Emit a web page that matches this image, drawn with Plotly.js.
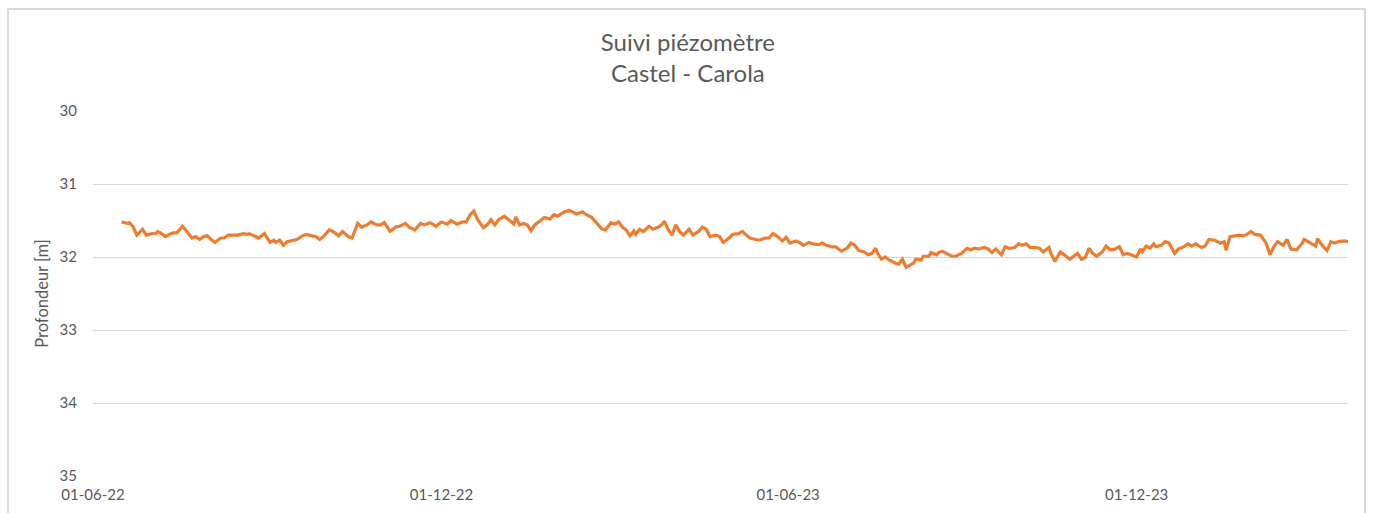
<!DOCTYPE html>
<html>
<head>
<meta charset="utf-8">
<script src="https://cdn.plot.ly/plotly-3.0.1.min.js"></script>
<style>
html,body{margin:0;padding:0;background:#fff;width:1373px;height:513px;overflow:hidden;}
#frame{position:absolute;left:7px;top:8px;width:1359px;height:530px;border:2px solid #d9d9d9;box-sizing:border-box;pointer-events:none;z-index:5;}
#chart{position:absolute;left:0;top:0;width:1373px;height:513px;}
</style>
</head>
<body>
<div id="chart"></div>
<div id="frame"></div>
<script>
const dates = [
"2022-06-16","2022-06-19","2022-06-20","2022-06-22","2022-06-24","2022-06-26","2022-06-27","2022-06-29",
"2022-07-02","2022-07-04","2022-07-05","2022-07-07","2022-07-09","2022-07-11","2022-07-13","2022-07-15",
"2022-07-18","2022-07-19","2022-07-21","2022-07-23","2022-07-25","2022-07-27","2022-07-29","2022-07-31",
"2022-08-02","2022-08-04","2022-08-07","2022-08-09","2022-08-11","2022-08-13","2022-08-16","2022-08-19",
"2022-08-21","2022-08-22","2022-08-25","2022-08-27","2022-08-30","2022-08-31","2022-09-02","2022-09-04",
"2022-09-05","2022-09-07","2022-09-09","2022-09-11","2022-09-13","2022-09-16","2022-09-19","2022-09-21",
"2022-09-24","2022-09-26","2022-09-28","2022-09-30","2022-10-03","2022-10-05","2022-10-08","2022-10-10",
"2022-10-13","2022-10-15","2022-10-18","2022-10-20","2022-10-23","2022-10-25","2022-10-28","2022-10-30",
"2022-11-01","2022-11-04","2022-11-07","2022-11-09","2022-11-12","2022-11-14","2022-11-17","2022-11-20",
"2022-11-22","2022-11-25","2022-11-27","2022-11-28","2022-12-01","2022-12-04","2022-12-06","2022-12-09",
"2022-12-12","2022-12-14","2022-12-16","2022-12-18","2022-12-20","2022-12-23","2022-12-25","2022-12-27",
"2022-12-29","2022-12-31","2023-01-03","2023-01-05","2023-01-08","2023-01-09","2023-01-11","2023-01-13",
"2023-01-15","2023-01-17","2023-01-19","2023-01-22","2023-01-24","2023-01-27","2023-01-29","2023-01-31",
"2023-02-03","2023-02-06","2023-02-08","2023-02-10","2023-02-13","2023-02-15","2023-02-18","2023-02-20",
"2023-02-23","2023-02-25","2023-02-28","2023-03-02","2023-03-04","2023-03-06","2023-03-08","2023-03-10",
"2023-03-12","2023-03-13","2023-03-15","2023-03-17","2023-03-20","2023-03-22","2023-03-25","2023-03-27",
"2023-03-28","2023-03-30","2023-04-01","2023-04-03","2023-04-05","2023-04-07","2023-04-10","2023-04-12",
"2023-04-15","2023-04-17","2023-04-19","2023-04-21","2023-04-24","2023-04-26","2023-04-28","2023-05-01",
"2023-05-03","2023-05-06","2023-05-08","2023-05-10","2023-05-12","2023-05-15","2023-05-17","2023-05-20",
"2023-05-22","2023-05-24","2023-05-26","2023-05-29","2023-05-31","2023-06-02","2023-06-05","2023-06-07",
"2023-06-09","2023-06-12","2023-06-14","2023-06-17","2023-06-19","2023-06-21","2023-06-24","2023-06-26",
"2023-06-29","2023-07-02","2023-07-04","2023-07-06","2023-07-08","2023-07-11","2023-07-13","2023-07-15",
"2023-07-17","2023-07-18","2023-07-20","2023-07-22","2023-07-24","2023-07-27","2023-07-29","2023-07-31",
"2023-08-02","2023-08-04","2023-08-06","2023-08-07","2023-08-10","2023-08-11","2023-08-14","2023-08-15",
"2023-08-18","2023-08-19","2023-08-21","2023-08-23","2023-08-26","2023-08-28","2023-08-31","2023-09-03",
"2023-09-05","2023-09-07","2023-09-09","2023-09-12","2023-09-14","2023-09-16","2023-09-18","2023-09-21",
"2023-09-23","2023-09-25","2023-09-28","2023-09-30","2023-10-02","2023-10-04","2023-10-06","2023-10-09",
"2023-10-11","2023-10-13","2023-10-16","2023-10-17","2023-10-19","2023-10-22","2023-10-24","2023-10-27",
"2023-10-29","2023-10-31","2023-11-02","2023-11-04","2023-11-06","2023-11-08","2023-11-10","2023-11-13",
"2023-11-15","2023-11-17","2023-11-19","2023-11-22","2023-11-24","2023-11-26","2023-11-28","2023-12-01",
"2023-12-03","2023-12-04","2023-12-06","2023-12-08","2023-12-10","2023-12-11","2023-12-14","2023-12-16",
"2023-12-18","2023-12-21","2023-12-23","2023-12-25","2023-12-28","2023-12-30","2024-01-01","2024-01-04",
"2024-01-06","2024-01-08","2024-01-11","2024-01-14","2024-01-16","2024-01-17","2024-01-19","2024-01-22",
"2024-01-24","2024-01-26","2024-01-28","2024-01-30","2024-02-01","2024-02-04","2024-02-07","2024-02-09",
"2024-02-11","2024-02-13","2024-02-16","2024-02-18","2024-02-20","2024-02-23","2024-02-26","2024-02-27",
"2024-03-01","2024-03-04","2024-03-05","2024-03-08","2024-03-10","2024-03-12","2024-03-14","2024-03-16",
"2024-03-19","2024-03-21"
];
const profondeur = [
31.52,31.54,31.53,31.58,31.70,31.65,31.62,31.70,
31.68,31.68,31.65,31.68,31.72,31.69,31.67,31.67,
31.58,31.61,31.68,31.74,31.72,31.76,31.72,31.71,
31.76,31.80,31.74,31.74,31.70,31.70,31.70,31.68,
31.69,31.68,31.71,31.74,31.68,31.72,31.80,31.77,
31.80,31.77,31.84,31.79,31.78,31.76,31.71,31.69,
31.71,31.72,31.76,31.72,31.63,31.65,31.71,31.65,
31.72,31.74,31.54,31.59,31.56,31.52,31.56,31.56,
31.53,31.65,31.59,31.58,31.54,31.59,31.63,31.54,
31.56,31.53,31.56,31.58,31.52,31.55,31.50,31.55,
31.52,31.52,31.42,31.37,31.49,31.60,31.56,31.49,
31.56,31.49,31.44,31.49,31.55,31.45,31.56,31.54,
31.56,31.64,31.56,31.50,31.46,31.48,31.42,31.44,
31.39,31.36,31.38,31.41,31.38,31.42,31.46,31.52,
31.61,31.63,31.53,31.55,31.52,31.59,31.63,31.71,
31.64,31.69,31.62,31.65,31.58,31.62,31.59,31.55,
31.51,31.62,31.70,31.56,31.65,31.70,31.62,31.70,
31.65,31.59,31.62,31.72,31.70,31.72,31.80,31.74,
31.69,31.68,31.65,31.70,31.74,31.76,31.77,31.74,
31.74,31.68,31.71,31.78,31.73,31.81,31.78,31.80,
31.84,31.80,31.82,31.83,31.81,31.84,31.86,31.86,
31.92,31.88,31.81,31.84,31.91,31.93,31.97,31.95,
31.88,31.95,32.03,32.00,32.04,32.08,32.10,32.03,
32.14,32.11,32.08,32.03,32.04,31.99,31.99,31.94,
31.97,31.94,31.92,31.95,31.99,31.99,31.95,31.88,
31.90,31.88,31.89,31.87,31.89,31.94,31.89,31.97,
31.86,31.88,31.87,31.82,31.84,31.82,31.87,31.87,
31.88,31.93,31.87,31.95,32.06,31.93,31.97,32.03,
31.99,31.95,32.03,32.01,31.88,31.95,31.99,31.93,
31.85,31.90,31.90,31.86,31.97,31.95,31.97,32.00,
31.89,31.93,31.85,31.88,31.82,31.86,31.84,31.79,
31.81,31.95,31.89,31.87,31.82,31.85,31.82,31.87,
31.85,31.76,31.77,31.81,31.79,31.91,31.72,31.71,
31.70,31.71,31.69,31.65,31.69,31.70,31.81,31.97,
31.86,31.79,31.84,31.76,31.89,31.90,31.81,31.76,
31.81,31.85,31.75,31.86,31.91,31.79,31.81,31.79,
31.78,31.79
];
const xTickVals = ["2022-06-01","2022-12-01","2023-06-01","2023-12-01"];
const xTickText = ["01-06-22","01-12-22","01-06-23","01-12-23"];
const yTickVals = [30,31,32,33,34,35];
const yTickText = ["30","31","32","33","34","35"];

const FONT = "Lato, 'Open Sans', sans-serif";
const GREY = "#595959";

const trace = {
  x: dates, y: profondeur, type: "scatter", mode: "lines",
  line: {color: "#ED7D31", width: 3.2},
  hoverinfo: "x+y"
};

const layout = {
  width: 1373, height: 513,
  margin: {l: 93, r: 25, t: 111, b: 37, pad: 0},
  paper_bgcolor: "rgba(0,0,0,0)", plot_bgcolor: "#fff",
  showlegend: false,
  font: {family: FONT, color: GREY, size: 15},
  title: {
    text: "Suivi piézomètre<br>Castel - Carola",
    font: {family: FONT, size: 24, color: GREY},
    x: 0.501, xref: "container", xanchor: "center",
    y: 1 - 51/513, yref: "container", yanchor: "middle"
  },
  xaxis: {
    type: "date",
    range: ["2022-06-01", "2024-03-21"],
    tickmode: "array", tickvals: xTickVals, ticktext: xTickText,
    showgrid: false, zeroline: false, showline: false,
    ticks: "", ticklabelstandoff: 8,
    tickfont: {family: FONT, size: 15, color: GREY}
  },
  yaxis: {
    range: [35, 30], autorange: false,
    tickmode: "array", tickvals: yTickVals, ticktext: yTickText,
    showgrid: true, gridcolor: "#d9d9d9", gridwidth: 1,
    zeroline: false, showline: false, ticks: "",
    ticklabelstandoff: 15,
    tickfont: {family: FONT, size: 15, color: GREY},
    title: {text: "Profondeur [m]", font: {family: FONT, size: 16.5, color: GREY}, standoff: 6}
  }
};

Plotly.newPlot("chart", [trace], layout, {displayModeBar: false, staticPlot: true});
</script>
</body>
</html>
